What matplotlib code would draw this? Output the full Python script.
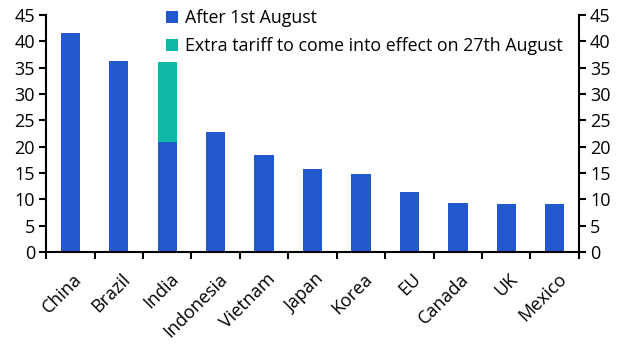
import matplotlib.pyplot as plt
import numpy as np

plt.rcParams['font.family'] = ['Open Sans', 'DejaVu Sans']

countries = ['China', 'Brazil', 'India', 'Indonesia', 'Vietnam', 'Japan',
             'Korea', 'EU', 'Canada', 'UK', 'Mexico']
after_aug1 = [41.6, 36.3, 20.8, 22.8, 18.4, 15.8, 14.8, 11.4, 9.3, 9.1, 9.1]
extra_aug27 = [0, 0, 15.2, 0, 0, 0, 0, 0, 0, 0, 0]

blue = '#2159CC'
teal = '#0EB9AA'

fig = plt.figure(figsize=(6.32, 3.57), dpi=100)
ax = fig.add_axes([0.073, 0.294, 0.843, 0.664])

x = np.arange(len(countries))
ax.bar(x, after_aug1, width=0.4, color=blue, label='After 1st August')
ax.bar(x, extra_aug27, width=0.4, bottom=after_aug1, color=teal,
       label='Extra tariff to come into effect on 27th August')

ax.set_xlim(-0.5, len(countries) - 0.5)
ax.set_ylim(0, 45)
ax.set_yticks(np.arange(0, 46, 5))
ax.tick_params(axis='y', labelsize=13, length=5, width=1.5, direction='out',
               left=True, right=True, labelleft=True, labelright=True, pad=3)

# ticks between categories, labels at category centres
ax.set_xticks(np.arange(-0.5, len(countries), 1))
ax.set_xticklabels([])
ax.tick_params(axis='x', length=5, width=1.5, direction='out')
ax.set_xticks(x + 0.05, minor=True)
ax.set_xticklabels(countries, minor=True, rotation=45, ha='right',
                   rotation_mode='anchor', fontsize=13)
ax.tick_params(axis='x', which='minor', length=0, pad=13)

ax.spines['top'].set_visible(False)
for side in ['left', 'right', 'bottom']:
    ax.spines[side].set_linewidth(1.5)

leg = ax.legend(loc='upper left', bbox_to_anchor=(0.212, 1.055), frameon=False,
                fontsize=12.8, handlelength=0.65, handleheight=0.65,
                handletextpad=0.4, labelspacing=0.55, borderaxespad=0)

fig.savefig('out.png', dpi=100)
